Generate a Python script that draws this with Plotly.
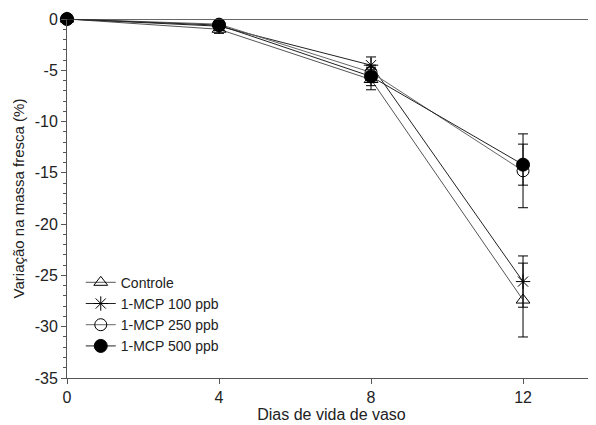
import plotly.graph_objects as go

days = [0, 4, 8, 12]
series_names = ["Controle", "1-MCP 100 ppb", "1-MCP 250 ppb", "1-MCP 500 ppb"]
controle = [0, -1.0, -5.9, -27.4]
mcp100 = [0, -0.7, -4.5, -25.6]
mcp250 = [0, -0.5, -5.2, -14.8]
mcp500 = [0, -0.6, -5.6, -14.2]
err_controle = [0, 0.4, 1.0, 3.6]
err_mcp100 = [0, 0.3, 0.8, 2.5]
err_mcp250 = [0, 0.3, 0.7, 3.6]
err_mcp500 = [0, 0.3, 0.9, 2.0]

x_ticks = [0, 4, 8, 12]
x_ticklabels = ["0", "4", "8", "12"]
y_ticks = [0, -5, -10, -15, -20, -25, -30, -35]
y_ticklabels = ["0", "-5", "-10", "-15", "-20", "-25", "-30", "-35"]

styles = [
    dict(symbol="triangle-up-open", size=12),
    dict(symbol="asterisk-open", size=12),
    dict(symbol="circle-open", size=12),
    dict(symbol="circle", size=13),
]
values = [controle, mcp100, mcp250, mcp500]
errs = [err_controle, err_mcp100, err_mcp250, err_mcp500]
line_colors = ["#555555", "#222222", "#666666", "#222222"]

fig = go.Figure()
for name, vals, er, st, lc in zip(series_names, values, errs, styles, line_colors):
    fig.add_trace(go.Scatter(
        x=days, y=vals, name=name, mode="lines+markers",
        line=dict(color=lc, width=1),
        marker=dict(symbol=st["symbol"], size=st["size"], color="black",
                    line=dict(color="black", width=1)),
        error_y=dict(type="data", array=er, visible=True, color="black",
                     thickness=1, width=5),
        cliponaxis=False,
    ))

txt = "#222222"
fig.update_layout(
    width=588, height=417,
    margin=dict(l=59, r=0, t=11, b=47),
    plot_bgcolor="white", paper_bgcolor="white",
    font=dict(family="Liberation Sans, Arial, sans-serif", size=15, color=txt),
    showlegend=True,
    legend=dict(x=0.026, y=0.31, xanchor="left", yanchor="top",
                bgcolor="rgba(0,0,0,0)", font=dict(size=14, color=txt),
                tracegroupgap=0),
    xaxis=dict(range=[0, 13.92], tickvals=x_ticks, ticktext=x_ticklabels,
               ticks="outside", ticklen=5, automargin=False,
               tickcolor="#555555", showline=True, linecolor="#555555", linewidth=1,
               showgrid=False, zeroline=False,
               title=dict(text="Dias de vida de vaso", standoff=2,
                          font=dict(size=16, color=txt)),
               tickfont=dict(size=16)),
    yaxis=dict(range=[-35, 0], tickvals=y_ticks, ticktext=y_ticklabels,
               ticks="outside", ticklen=5, automargin=False,
               tickcolor="#555555", showline=True, linecolor="#555555", linewidth=1,
               showgrid=False, zeroline=False,
               minor=dict(dtick=1, ticks="outside", ticklen=3, tickcolor="#555555"),
               title=dict(text="Variação na massa fresca (%)", standoff=6,
                          font=dict(size=15, color=txt)),
               tickfont=dict(size=16)),
)
fig.add_shape(type="line", xref="paper", yref="y", x0=0, x1=1, y0=0, y1=0,
              line=dict(color="#333333", width=1.5))

fig.write_html("out.html")
